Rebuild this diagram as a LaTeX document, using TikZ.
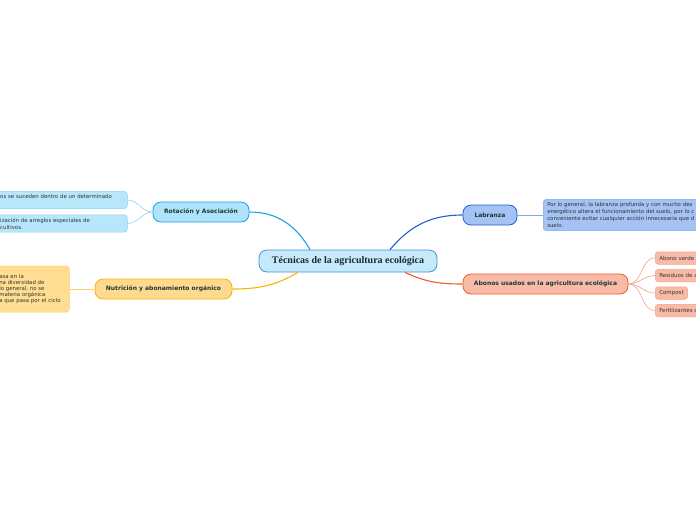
\documentclass[tikz,border=0pt]{standalone}
\usepackage{fontspec}
\setmainfont{DejaVu Sans}
\newfontfamily\titlefont{Liberation Serif}
\usetikzlibrary{positioning}

\definecolor{tecfill}{HTML}{C6EAFA}
\definecolor{tecline}{HTML}{3F93D6}
\definecolor{rotfill}{HTML}{AEE3FB}
\definecolor{rotline}{HTML}{1BA1E2}
\definecolor{rotleaf}{HTML}{B8E7FB}
\definecolor{rotleafline}{HTML}{8FD3F5}
\definecolor{labfill}{HTML}{A4C2F4}
\definecolor{labline}{HTML}{1F5FD0}
\definecolor{lableafline}{HTML}{7EA6EA}
\definecolor{nutfill}{HTML}{FFD98E}
\definecolor{nutline}{HTML}{F7B500}
\definecolor{nutleaf}{HTML}{FFDE92}
\definecolor{nutleafline}{HTML}{FFD06A}
\definecolor{abofill}{HTML}{F9BBA8}
\definecolor{aboline}{HTML}{F05A2A}
\definecolor{aboleafline}{HTML}{F7A088}
\definecolor{labeltext}{HTML}{1B3A35}
\definecolor{leaftext}{HTML}{333333}
\definecolor{titletext}{HTML}{1B2838}

\begin{document}
\begin{tikzpicture}[x=1pt,y=-1pt,
        central/.style={draw=tecline, fill=tecfill, line width=0.8pt, rounded corners=8pt,
            minimum width=178pt, minimum height=22pt,
            font=\titlefont\fontsize{10}{11}\selectfont\bfseries, text=titletext},
        branch/.style={draw, rounded corners=8pt, line width=0.8pt, minimum height=20pt,
            font=\fontsize{6}{7}\selectfont\bfseries, text=labeltext},
        leaf/.style={draw, rounded corners=3pt, line width=0.5pt, inner xsep=4pt, inner ysep=3pt,
            font=\fontsize{5.4}{7}\selectfont, align=left, text=leaftext, anchor=west},
        aboitem/.style={leaf, fill=abofill, draw=aboleafline, font=\fontsize{5.5}{6.5}\selectfont,
            inner ysep=3pt, minimum height=12.5pt}]

    \useasboundingbox (0,0) rectangle (696,520);
    \clip (0,0) rectangle (696,520);

    % centre
    \node[central] (tec) at (348,261) {Técnicas de la agricultura ecológica};

    % main branches
    \node[branch, fill=rotfill, draw=rotline, minimum width=96pt] (rot) at (201,212) {Rotación y Asociación};
    \node[branch, fill=labfill, draw=labline, minimum width=54pt] (lab) at (490,215) {Labranza};
    \node[branch, fill=nutfill, draw=nutline, minimum width=137pt] (nut) at (163.5,289) {Nutrición y abonamiento orgánico};
    \node[branch, fill=abofill, draw=aboline, minimum width=165pt] (abo) at (545.5,284) {Abonos usados en la agricultura ecológica};

    \draw[rotline, line width=1.1pt] (rot.east) to[out=0,in=120] ([xshift=-38pt]tec.north);
    \draw[labline, line width=1.1pt] ([xshift=42pt]tec.north) to[out=50,in=180] (lab.west);
    \draw[nutline, line width=1.1pt] (nut.east) to[out=0,in=210] ([xshift=-50pt]tec.south);
    \draw[aboline, line width=1.1pt] ([xshift=57pt]tec.south) to[out=-25,in=180] (abo.west);

    % Rotacion
    \node[leaf, fill=rotleaf, draw=rotleafline, text width=123pt] (rot1) at (-4,200)
        {os se suceden dentro de un determinado\\\mbox{}};
    \node[leaf, fill=rotleaf, draw=rotleafline, text width=123pt] (rot2) at (-4,223.5)
        {ización de arreglos especiales de\\cultivos.};
    \foreach \i in {1,2}
        \draw[rotleafline, line width=0.6pt] (rot.west) to[out=180,in=0] (rot\i.east);

    % Labranza
    \node[leaf, fill=labfill, draw=lableafline, text width=200pt] (lab1) at (543,215)
        {Por lo general, la labranza profunda y con mucho des\\energético altera el funcionamiento del suelo, por lo c\\conveniente evitar cualquier acción innecesaria que d\\suelo.};
    \draw[lableafline, line width=0.6pt] (lab.east) -- (lab1.west);

    % Nutricion
    \node[leaf, fill=nutleaf, draw=nutleafline, text width=66pt, minimum height=46pt,
        font=\fontsize{5.4}{6.2}\selectfont] (nut1) at (-5,289)
        {asa en la\\na diversidad de\\lo general, no se\\materia orgánica\\a que pasa por el ciclo};
    \draw[nutleafline, line width=0.6pt] (nut.west) -- (nut1.east);

    % Abonos
    \node[aboitem, text width=50pt] (abo1) at (655,258) {Abono verde};
    \node[aboitem, text width=50pt] (abo2) at (655,275.5) {Residuos de a};
    \node[aboitem] (abo3) at (655,293) {Compost};
    \node[aboitem, text width=50pt] (abo4) at (655,310.5) {Fertilizantes o};
    \foreach \i in {1,...,4}
        \draw[aboleafline, line width=0.6pt] (abo.east) to[out=0,in=180] (abo\i.west);
\end{tikzpicture}
\end{document}
